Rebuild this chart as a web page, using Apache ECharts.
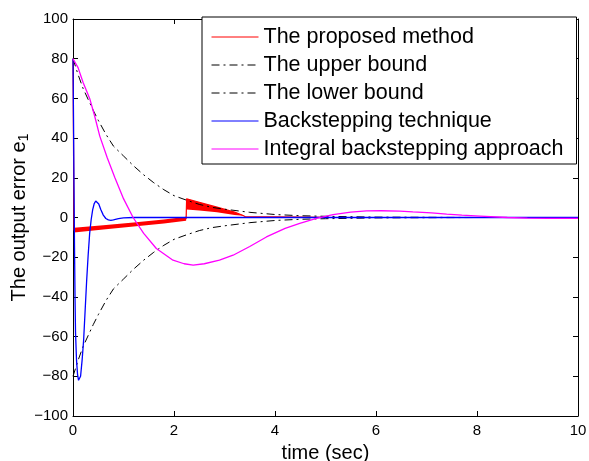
<!DOCTYPE html>
<html>
<head>
<meta charset="utf-8">
<script src="https://cdn.jsdelivr.net/npm/echarts@6/dist/echarts.min.js"></script>
<style>
html, body { margin: 0; padding: 0; background: #fff; }
#chart { width: 589px; height: 461px; }
</style>
</head>
<body>
<div id="chart"></div>
<script>
// series names (legend order)
const names = ['The proposed method', 'The upper bound', 'The lower bound', 'Backstepping technique', 'Integral backstepping approach'];

// proposed method: centre line
const redT = [0, 0.02, 0.5, 1.0, 1.5, 2.0, 2.24, 2.25, 2.5, 2.85, 3.2, 3.37, 3.42, 4.0, 5.0, 10];
const redV = [80, -6.4, -5.2, -3.8, -2.5, -1.2, -0.6, 9.4, 7.7, 5.2, 2.7, 1.0, 0.3, 0.3, 0.1, 0];
// proposed method: chattering band (lower / upper envelope)
const bandT = [0.02, 0.6, 1.2, 1.8, 2.24, 2.25, 2.5, 2.85, 3.2, 3.37];
const bandLo = [-7.5, -6.0, -4.5, -3.0, -1.7, 4.0, 3.5, 2.7, 1.3, 0.9];
const bandHi = [-5.2, -3.9, -2.5, -1.0, 0.4, 9.4, 7.7, 5.2, 2.7, 1.1];

// bounds
const boundT = [0, 0.1, 0.2, 0.3, 0.4, 0.5, 0.65, 0.8, 1.0, 1.2, 1.4, 1.6, 1.8, 2.0, 2.25, 2.5, 2.75, 3.0, 3.5, 4.0, 4.5, 5.0, 6.0, 7.0, 8.0, 10];
const upperV = [80, 72, 65, 59.5, 54, 49, 42, 36, 31, 26, 21.5, 17.5, 14, 11, 8.7, 6.6, 5.1, 4.2, 2.6, 1.5, 0.9, 0.6, 0.2, 0.1, 0, 0];
const lowerV = [-80, -72, -65, -59.5, -54, -49, -42, -36, -31, -26, -21.5, -17.5, -14, -11, -8.7, -6.6, -5.1, -4.2, -2.6, -1.5, -0.9, -0.6, -0.2, -0.1, 0, 0];

// backstepping technique
const blueT = [0, 0.01, 0.02, 0.03, 0.04, 0.05, 0.07, 0.09, 0.11, 0.13, 0.15, 0.18, 0.21, 0.24, 0.27, 0.3, 0.33, 0.36, 0.39, 0.42, 0.45, 0.48, 0.51, 0.55, 0.6, 0.65, 0.7, 0.75, 0.8, 0.9, 1.0, 1.2, 10];
const blueV = [80, 50, 15, -15, -40, -58, -72, -79, -82, -82, -80, -72, -62, -47, -32, -19, -8, -1, 4, 7, 8.3, 8.2, 6.8, 4, 1.2, -0.5, -1.2, -1.4, -1.2, -0.6, -0.2, 0, 0];

// integral backstepping approach
const magT = [0, 0.1, 0.2, 0.33, 0.43, 0.53, 0.68, 0.83, 1.0, 1.19, 1.4, 1.65, 1.98, 2.2, 2.38, 2.6, 2.9, 3.17, 3.5, 3.83, 4.2, 4.49, 4.82, 5.15, 5.5, 5.81, 6.1, 6.47, 6.73, 7.1, 7.4, 7.7, 8.06, 8.6, 9.0, 9.4, 10];
const magV = [80, 75.5, 68, 60, 51, 41, 30, 20, 9.5, 0, -8, -15.6, -21.5, -23.3, -24, -23.3, -21.5, -19, -14.6, -9.8, -5.5, -3, -0.5, 1.5, 2.7, 3.3, 3.4, 3.2, 2.8, 2.3, 1.7, 1.2, 0.7, 0, -0.3, -0.4, -0.4];

const pairs = (xs, ys) => xs.map((x, i) => [x, ys[i]]);
const font = 'Liberation Sans, Arial, Helvetica, sans-serif';
const dashDot = [8, 4, 2, 4];

const axisCommon = {
    axisLine: { show: true, onZero: false, lineStyle: { color: '#000', width: 1 } },
    axisTick: { show: true, inside: true, length: 5, lineStyle: { color: '#000', width: 1 } },
    splitLine: { show: false }
};

const chart = echarts.init(document.getElementById('chart'), null, { renderer: 'canvas' });
chart.setOption({
    animation: false,
    backgroundColor: '#fff',
    grid: { left: 73, right: 11, top: 19, bottom: 45, containLabel: false, outerBoundsMode: 'none' },
    legend: {
        data: names,
        orient: 'vertical',
        left: 202,
        top: 17,
        backgroundColor: '#fff',
        borderColor: '#000',
        borderWidth: 1,
        borderRadius: 0,
        padding: [8, 13, 3, 9],
        itemWidth: 47,
        itemHeight: 14,
        itemGap: 4,
        selectedMode: false,
        itemStyle: { opacity: 0 },
        lineStyle: { width: 1 },
        textStyle: { fontSize: 21.5, fontFamily: font, color: '#000', lineHeight: 24 }
    },
    xAxis: [
        Object.assign({
            type: 'value', min: 0, max: 10, interval: 2, position: 'bottom',
            axisLabel: { color: '#000', fontSize: 15, fontFamily: font, margin: 7 },
            name: 'time (sec)', nameLocation: 'middle', nameGap: 27, nameMoveOverlap: false,
            nameTextStyle: { color: '#000', fontSize: 20, fontFamily: font }
        }, axisCommon),
        Object.assign({
            type: 'value', min: 0, max: 10, interval: 2, position: 'top',
            axisLabel: { show: false }
        }, axisCommon)
    ],
    yAxis: [
        Object.assign({
            type: 'value', min: -100, max: 100, interval: 20, position: 'left',
            axisLabel: {
                color: '#000', fontSize: 15, fontFamily: font, margin: 5,
                formatter: v => v < 0 ? '\u2212' + (-v) : String(v)
            },
            name: '{t|The output error e}{s|1}', nameLocation: 'middle', nameGap: 42, nameMoveOverlap: false,
            nameTextStyle: {
                color: '#000', fontFamily: font,
                rich: {
                    t: { fontSize: 20, fontFamily: font, color: '#000', lineHeight: 24 },
                    s: { fontSize: 14, fontFamily: font, color: '#000', verticalAlign: 'bottom', lineHeight: 14, padding: [8, 0, 0, 0] }
                }
            }
        }, axisCommon),
        Object.assign({
            type: 'value', min: -100, max: 100, interval: 20, position: 'right',
            axisLabel: { show: false }
        }, axisCommon)
    ],
    series: [
        {
            name: names[0], type: 'line', symbol: 'none', showSymbol: false,
            lineStyle: { color: '#ff0000', width: 1.2 }, itemStyle: { color: '#ff0000' },
            data: pairs(redT, redV)
        },
        {
            name: 'band', type: 'custom', silent: true,
            data: [0],
            renderItem: (params, api) => {
                const top = bandT.map((t, i) => api.coord([t, bandHi[i]]));
                const bot = bandT.map((t, i) => api.coord([t, bandLo[i]])).reverse();
                return { type: 'polygon', shape: { points: top.concat(bot) }, style: { fill: '#ff0000' } };
            }
        },
        {
            name: names[1], type: 'line', symbol: 'none', showSymbol: false,
            lineStyle: { color: '#000', width: 1, type: dashDot }, itemStyle: { color: '#000' },
            data: pairs(boundT, upperV)
        },
        {
            name: names[2], type: 'line', symbol: 'none', showSymbol: false,
            lineStyle: { color: '#000', width: 1, type: dashDot }, itemStyle: { color: '#000' },
            data: pairs(boundT, lowerV)
        },
        {
            name: names[3], type: 'line', symbol: 'none', showSymbol: false,
            lineStyle: { color: '#0000ff', width: 1.3 }, itemStyle: { color: '#0000ff' },
            data: pairs(blueT, blueV)
        },
        {
            name: names[4], type: 'line', symbol: 'none', showSymbol: false,
            lineStyle: { color: '#ff00ff', width: 1.3 }, itemStyle: { color: '#ff00ff' },
            data: pairs(magT, magV)
        }
    ]
});
</script>
</body>
</html>
